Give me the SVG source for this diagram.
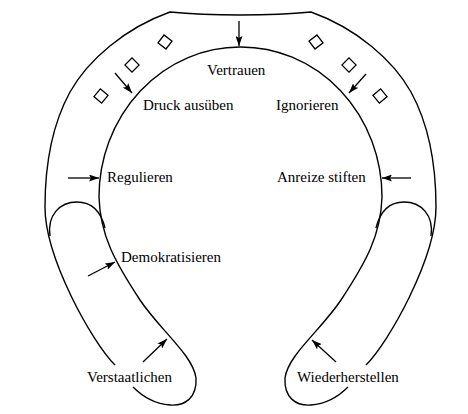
<svg xmlns="http://www.w3.org/2000/svg" width="468" height="414" viewBox="0 0 468 414">
<style>
.ln{fill:none;stroke:#000;stroke-width:1.4}
.sq{fill:none;stroke:#000;stroke-width:1.3}
.ar{fill:none;stroke:#000;stroke-width:1.3;marker-end:url(#ah)}
text{font-family:"Liberation Serif","Times New Roman",serif;font-size:15px;fill:#000}
</style>
<defs>
<marker id="ah" markerUnits="userSpaceOnUse" markerWidth="10" markerHeight="7" refX="10" refY="3.5" orient="auto">
<path d="M0,0 L10,3.5 L0,7 L2,3.5 Z" fill="#000"/>
</marker>
<rect id="sq" x="-5" y="-5" width="10" height="10" class="sq"/>
</defs>
<rect width="468" height="414" fill="#fff"/>
<g id="shape">
<path class="ln" d="M115,365 C92,342 45,258 45,207 C45,165 52,125 70,92 C88,60 125,28 170,12 C210,16 271,16 311,12 C356,28 393,60 411,92 C429,125 436,165 436,207 C436,258 389,342 366,365"/>
<path class="ln" d="M133,387 C142,396 155,404 170,405 C185,406 197,398 196,378 C193,355 160,330 140,300 C115,262 100,235 99,197 A141,150 0 0 1 240,47 A141,150 0 0 1 382,197 C381,235 366,262 341,300 C321,330 288,355 285,378 C284,398 296,406 311,405 C326,404 339,396 348,387"/>
<path class="ln" d="M50,236 C47,215 60,202 77,202 C92,202 101,212 105,228"/>
<path class="ln" d="M431,236 C434,215 421,202 404,202 C389,202 380,212 376,228"/>
<use href="#sq" transform="translate(165,42) rotate(37)"/>
<use href="#sq" transform="translate(132,65) rotate(45)"/>
<use href="#sq" transform="translate(101,96) rotate(40)"/>
<use href="#sq" transform="translate(316,42) rotate(-37)"/>
<use href="#sq" transform="translate(349,65) rotate(-45)"/>
<use href="#sq" transform="translate(380,96) rotate(-40)"/>
</g>
<g id="connectors">
<line class="ar" x1="239" y1="21" x2="239" y2="46"/>
<line class="ar" x1="115" y1="73" x2="132" y2="93"/>
<line class="ar" x1="366" y1="74" x2="349" y2="93"/>
<line class="ar" x1="68" y1="178" x2="99" y2="178"/>
<line class="ar" x1="411" y1="178" x2="382" y2="178"/>
<line class="ar" x1="88" y1="276" x2="115" y2="262"/>
<line class="ar" x1="143" y1="362" x2="167" y2="339"/>
<line class="ar" x1="336" y1="362" x2="312" y2="340"/>
</g>
<g id="vertrauen"><text x="207" y="75">Vertrauen</text></g>
<g id="druck"><text x="143" y="110">Druck ausüben</text></g>
<g id="ignorieren"><text x="276" y="110">Ignorieren</text></g>
<g id="regulieren"><text x="107" y="182">Regulieren</text></g>
<g id="anreize"><text x="277" y="182">Anreize stiften</text></g>
<g id="demokratisieren"><text x="121" y="262">Demokratisieren</text></g>
<g id="verstaatlichen"><text x="87" y="382">Verstaatlichen</text></g>
<g id="wiederherstellen"><text x="297" y="382">Wiederherstellen</text></g>
</svg>
